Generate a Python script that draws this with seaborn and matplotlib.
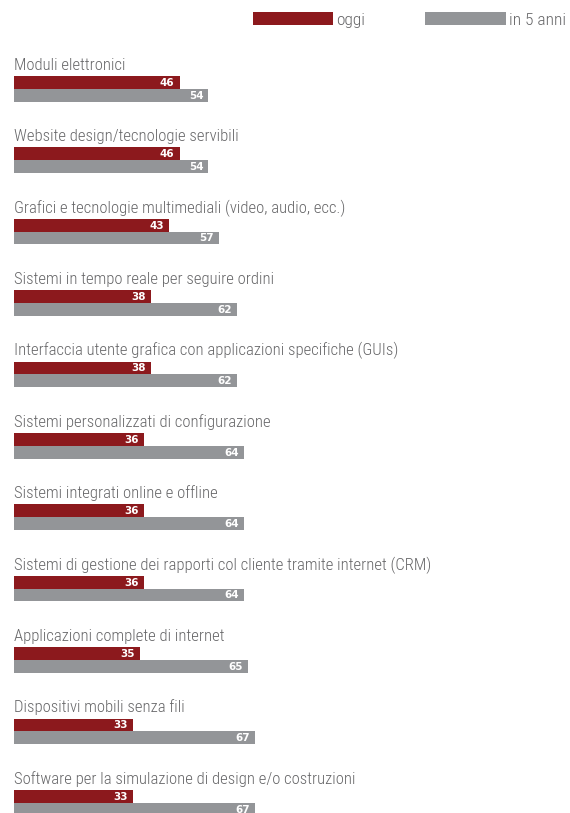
import matplotlib
matplotlib.use("Agg")
import matplotlib.pyplot as plt
from matplotlib.patches import Rectangle
import seaborn as sns
import pandas as pd

categories = [
    "Moduli elettronici",
    "Website design/tecnologie servibili",
    "Grafici e tecnologie multimediali (video, audio, ecc.)",
    "Sistemi in tempo reale per seguire ordini",
    "Interfaccia utente grafica con applicazioni specifiche (GUIs)",
    "Sistemi personalizzati di configurazione",
    "Sistemi integrati online e offline",
    "Sistemi di gestione dei rapporti col cliente tramite internet (CRM)",
    "Applicazioni complete di internet",
    "Dispositivi mobili senza fili",
    "Software per la simulazione di design e/o costruzioni",
]
oggi = [46, 46, 43, 38, 38, 36, 36, 36, 35, 33, 33]
in_5_anni = [54, 54, 57, 62, 62, 64, 64, 64, 65, 67, 67]
series_names = ["oggi", "in 5 anni"]

RED = "#8c191d"
GREY = "#939598"
TEXT = "#666668"

df = pd.DataFrame({
    "categoria": categories * 2,
    "serie": [series_names[0]] * len(categories) + [series_names[1]] * len(categories),
    "valore": oggi + in_5_anni,
})

sns.set_theme(style="white")
plt.rcParams["font.family"] = ["Roboto Condensed", "DejaVu Sans"]

W, H = 570, 813
fig = plt.figure(figsize=(W / 100, H / 100), dpi=100)
left_px = 14
px_per_unit = 3.6
ax = fig.add_axes([left_px / W, 0, 1 - left_px / W, 1])

sns.barplot(
    data=df, y="categoria", x="valore", hue="serie",
    order=categories, hue_order=series_names,
    palette=[RED, GREY], orient="h", width=0.356,
    dodge=True, legend=False, ax=ax, saturation=1, linewidth=0,
)

# vertical layout: group spacing 71.4 px, bar pair centred 88.8 px from top
step, first = 71.4, 88.8
ax.set_ylim((H - first) / step, -first / step)
ax.set_xlim(0, (W - left_px) / px_per_unit)
ax.axis("off")

# category captions above each pair of bars
for i, name in enumerate(categories):
    ax.text(0, i - 0.265, name, ha="left", va="baseline",
            fontsize=12, fontweight="light", color=TEXT)

# value labels right-aligned inside each bar end
for container in ax.containers:
    for bar in container:
        value = bar.get_width()
        ax.annotate(f"{value:.0f}", (value, bar.get_y() + bar.get_height() / 2),
                    xytext=(-3.6, -0.3), textcoords="offset points",
                    ha="right", va="center", color="white",
                    fontsize=7.5, fontweight="bold", family="DejaVu Sans")

# legend
def legend_item(x0, x1, color, label):
    fig.patches.append(Rectangle((x0 / W, 1 - 24.7 / H), (x1 - x0) / W, 12.7 / H,
                                 transform=fig.transFigure, color=color, lw=0))
    fig.text((x1 + 3) / W, 1 - 24.8 / H, label, ha="left", va="baseline",
             fontsize=12.5, fontweight="light", color=TEXT)

legend_item(253, 333, RED, series_names[0])
legend_item(425, 506, GREY, series_names[1])

fig.savefig("out.png", dpi=100)
